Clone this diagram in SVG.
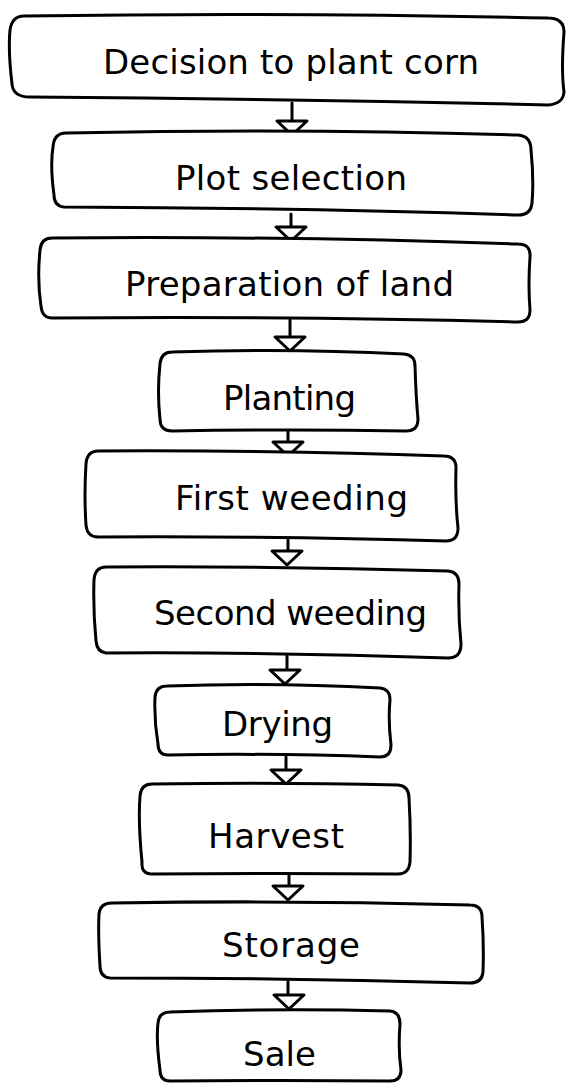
<svg xmlns="http://www.w3.org/2000/svg" xmlns:xlink="http://www.w3.org/1999/xlink" width="567" height="1083" viewBox="0 0 567 1083">
<style>
.box{fill:#fff;stroke:#000;stroke-width:3;stroke-linejoin:round;stroke-linecap:round}
.lbl{font-family:"DejaVu Sans","Liberation Sans",sans-serif;font-size:34px;fill:#000}
.wire{fill:none;stroke:#000;stroke-width:3;stroke-linecap:round}
.head{fill:#fff;stroke:#000;stroke-width:3;stroke-linejoin:round}
</style>
<defs>
<path id="ah" class="head" d="M -15,0 L 15,0 L 0,14 Z"/>
</defs>
<rect width="567" height="1083" fill="#fff"/>
<g id="connectors">
<path class="wire" d="M 292,103 L 292,121"/><use xlink:href="#ah" x="292" y="121"/>
<path class="wire" d="M 291,214 L 291,227"/><use xlink:href="#ah" x="291" y="227"/>
<path class="wire" d="M 290,320 L 290,337"/><use xlink:href="#ah" x="290" y="337"/>
<path class="wire" d="M 288,432 L 288,442"/><use xlink:href="#ah" x="288" y="442"/>
<path class="wire" d="M 288,540 L 288,551"/><use xlink:href="#ah" x="287" y="551"/>
<path class="wire" d="M 287,656 L 287,670"/><use xlink:href="#ah" x="285" y="670"/>
<path class="wire" d="M 286,757 L 286,770"/><use xlink:href="#ah" x="286" y="770"/>
<path class="wire" d="M 289,875 L 289,886"/><use xlink:href="#ah" x="288" y="886"/>
<path class="wire" d="M 288,981 L 288,995"/><use xlink:href="#ah" x="289" y="995"/>
</g>
<g id="n1">
<path class="box" d="M 24,16 Q 280,12 548,18 Q 564,18 564,32 Q 561,70 564,92 Q 563,104 548,105 Q 300,99 30,97 Q 13,97 12,84 Q 8,50 10,30 Q 12,16 24,16 Z"/>
<text class="lbl" x="103" y="74" textLength="376" lengthAdjust="spacing">Decision to plant corn</text>
</g>
<g id="n2">
<path class="box" d="M 66,133 Q 300,128 518,135 Q 531,136 531,150 Q 534,180 532,203 Q 531,215 518,215 Q 300,208 64,207 Q 54,206 54,195 Q 50,165 53,147 Q 54,133 66,133 Z"/>
<text class="lbl" x="175" y="190" textLength="232" lengthAdjust="spacing">Plot selection</text>
</g>
<g id="n3">
<path class="box" d="M 52,238 Q 290,236 518,244 Q 531,244 530,257 Q 528,285 530,310 Q 530,322 518,322 Q 300,316 52,318 Q 42,318 41,306 Q 37,280 40,250 Q 41,238 52,238 Z"/>
<text class="lbl" x="125" y="296" textLength="329" lengthAdjust="spacing">Preparation of land</text>
</g>
<g id="n4">
<path class="box" d="M 172,352 Q 290,348 404,354 Q 415,355 415,366 Q 416,398 418,419 Q 418,431 406,431 Q 290,429 172,431 Q 160,431 160,419 Q 157,392 160,364 Q 161,352 172,352 Z"/>
<text class="lbl" x="223" y="410" textLength="133" lengthAdjust="spacing">Planting</text>
</g>
<g id="n5">
<path class="box" d="M 98,451 Q 280,450 444,456 Q 456,456 456,468 Q 455,500 458,528 Q 458,541 446,541 Q 280,536 98,537 Q 87,537 86,525 Q 84,495 86,464 Q 87,451 98,451 Z"/>
<text class="lbl" x="175" y="510" textLength="233" lengthAdjust="spacing">First weeding</text>
</g>
<g id="n6">
<path class="box" d="M 106,567 Q 280,566 448,571 Q 459,572 459,584 Q 458,615 461,644 Q 461,658 448,658 Q 280,652 106,653 Q 97,652 96,641 Q 93,610 94,580 Q 95,567 106,567 Z"/>
<text class="lbl" x="154" y="625" textLength="273" lengthAdjust="spacing">Second weeding</text>
</g>
<g id="n7">
<path class="box" d="M 167,686 Q 270,682 380,688 Q 390,689 390,700 Q 388,720 391,745 Q 391,757 380,757 Q 270,753 168,755 Q 158,755 158,744 Q 154,720 155,697 Q 156,686 167,686 Z"/>
<text class="lbl" x="222" y="736" textLength="111" lengthAdjust="spacing">Drying</text>
</g>
<g id="n8">
<path class="box" d="M 152,784 Q 280,782 398,785 Q 409,786 409,798 Q 411,832 410,862 Q 409,874 398,874 Q 280,873 152,874 Q 141,874 142,862 Q 138,822 140,796 Q 141,784 152,784 Z"/>
<text class="lbl" x="208" y="848" textLength="136" lengthAdjust="spacing">Harvest</text>
</g>
<g id="n9">
<path class="box" d="M 112,903 Q 290,900 470,905 Q 482,905 482,917 Q 484,945 483,972 Q 482,983 470,983 Q 290,978 110,978 Q 100,977 100,966 Q 98,935 99,914 Q 100,903 112,903 Z"/>
<text class="lbl" x="222" y="957" textLength="138" lengthAdjust="spacing">Storage</text>
</g>
<g id="n10">
<path class="box" d="M 170,1012 Q 280,1008 390,1011 Q 400,1012 400,1024 Q 398,1050 401,1070 Q 401,1081 390,1081 Q 280,1080 170,1081 Q 160,1081 160,1070 Q 156,1040 158,1023 Q 159,1012 170,1012 Z"/>
<text class="lbl" x="243" y="1066" textLength="73" lengthAdjust="spacing">Sale</text>
</g>
</svg>
